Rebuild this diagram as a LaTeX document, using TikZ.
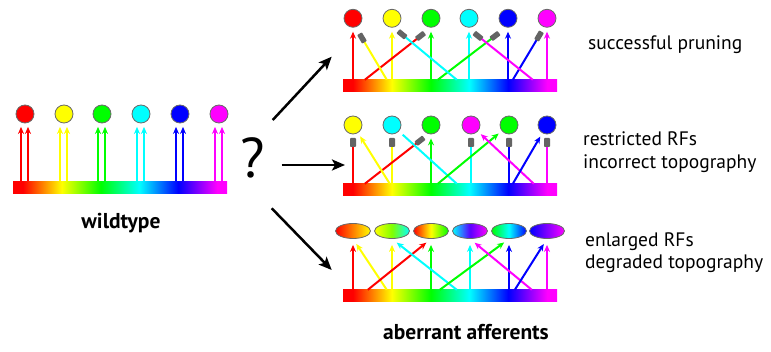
\documentclass[tikz,border=0pt]{standalone}
\usepackage{fontspec}
\setmainfont{PT Sans}
\usetikzlibrary{arrows.meta,shapes.geometric,calc}
\definecolor{cR}{RGB}{255,0,0}
\definecolor{cY}{RGB}{255,255,0}
\definecolor{cG}{RGB}{0,255,0}
\definecolor{cC}{RGB}{0,255,255}
\definecolor{cB}{RGB}{0,0,255}
\definecolor{cM}{RGB}{255,0,255}
\definecolor{cO}{RGB}{255,128,0}
\definecolor{cL}{RGB}{128,255,0}
\definecolor{cV}{RGB}{128,0,255}
\definecolor{blkgray}{RGB}{100,100,100}
\definecolor{rimgray}{RGB}{105,105,105}
\pgfdeclarehorizontalshading{spectrum}{100bp}{color(0bp)=(cR); color(27.3bp)=(cR); color(36.4bp)=(cY); color(45.5bp)=(cG); color(54.5bp)=(cC); color(63.6bp)=(cB); color(72.7bp)=(cM); color(100bp)=(cM)}
\tikzset{
  cell/.style={circle, draw=rimgray, line width=0.8pt, minimum size=18pt, inner sep=0pt},
  rf/.style={ellipse, draw=rimgray, line width=0.8pt, minimum width=35pt, minimum height=15pt, inner sep=0pt},
  specbar/.style={shading=spectrum, minimum width=214pt, minimum height=12pt, inner sep=0pt},
  ln/.style={line width=2pt},
  arr/.style={line width=2pt, -{Stealth[length=7pt,width=6pt]}, shorten >=4pt},
  blk/.style={fill=blkgray, rounded corners=0.8pt, minimum width=10pt, minimum height=5.5pt, inner sep=0pt, sloped, allow upside down},
  vblk/.style={fill=blkgray, rounded corners=0.8pt, minimum width=6pt, minimum height=9pt, inner sep=0pt},
  big/.style={line width=2.5pt, -{Stealth[length=13pt,width=11pt,inset=3pt]}},
  lbl/.style={inner sep=0pt, font=\fontsize{19.5}{22}\selectfont},
  ttl/.style={inner sep=0pt, font=\fontsize{21.5}{24}\selectfont\bfseries},
}
\begin{document}
\begin{tikzpicture}[x=1pt, y=-1pt]
\fill[white] (0,0) rectangle (771,352);
\useasboundingbox (0,0) rectangle (771,352);

% ---------- wildtype ----------
\node[specbar] (wbar) at (120,187.5) {};
\node[cell, fill=cR] (w1) at (25,114) {};
\node[cell, fill=cY] (w2) at (64,114) {};
\node[cell, fill=cG] (w3) at (102,114) {};
\node[cell, fill=cC] (w4) at (141,114) {};
\node[cell, fill=cB] (w5) at (180,114) {};
\node[cell, fill=cM] (w6) at (219,114) {};
\foreach \nn/\col in {w1/cR, w2/cY, w3/cG, w4/cC, w5/cB, w6/cM}{
  \draw[arr, shorten >=3.5pt, \col] ($(\nn |- wbar.north)+(-4,0)$) -- ($(\nn.south)+(-4,0)$);
  \draw[arr, shorten >=3.5pt, \col] ($(\nn |- wbar.north)+(3,0)$) -- ($(\nn.south)+(3,0)$);
}
\node[ttl, anchor=base] (wt) at (121,229) {wildtype};

% ---------- question and big arrows ----------
\node[anchor=base, inner sep=0pt, font=\fontsize{56}{56}\selectfont] (q) at (252.5,178) {?};
\coordinate (g1s) at (272.7,120); \coordinate (g1e) at (331.7,56.7);
\coordinate (g2s) at (281.7,165); \coordinate (g2e) at (345,165);
\coordinate (g3s) at (271.7,208.3); \coordinate (g3e) at (331.7,270);
\draw[big] (g1s) -- (g1e);
\draw[big] (g2s) -- (g2e);
\draw[big] (g3s) -- (g3e);

% ---------- top: successful pruning ----------
\node[specbar] (tbar) at (450,86) {};
\node[cell, fill=cR] (t1) at (353,18.3) {};
\node[cell, fill=cY] (t2) at (392,18.3) {};
\node[cell, fill=cG] (t3) at (431,18.3) {};
\node[cell, fill=cC] (t4) at (469,18.3) {};
\node[cell, fill=cB] (t5) at (508,18.3) {};
\node[cell, fill=cM] (t6) at (547,18.3) {};
\foreach \nn/\col in {t1/cR, t2/cY, t3/cG, t4/cC, t5/cB, t6/cM}{
  \draw[arr, \col] (\nn |- tbar.north) -- (\nn);
}
\coordinate (ta1) at ($(tbar.north west)+(22,0)$);
\coordinate (ta2) at ($(tbar.north west)+(44,0)$);
\coordinate (ta3) at ($(tbar.north west)+(95,0)$);
\coordinate (ta4) at ($(tbar.north west)+(114,0)$);
\coordinate (ta5) at ($(tbar.north west)+(170,0)$);
\coordinate (ta6) at ($(tbar.north west)+(190,0)$);
\coordinate (tz1) at ($(t3)+(-10.5,17.7)$);
\coordinate (tz2) at ($(t1)+(9,19.7)$);
\coordinate (tz3) at ($(t5)+(-13,17.7)$);
\coordinate (tz4) at ($(t2)+(10,16)$);
\coordinate (tz5) at ($(t6)+(-8,17.7)$);
\coordinate (tz6) at ($(t4)+(9,17.7)$);
\draw[ln, cR] (ta1) -- (tz1);
\draw[ln, cY] (ta2) -- (tz2);
\draw[ln, cG] (ta3) -- (tz3);
\draw[ln, cC] (ta4) -- (tz4);
\draw[ln, cB] (ta5) -- (tz5);
\draw[ln, cM] (ta6) -- (tz6);
\path (ta1) -- (tz1) node[blk, pos=1] (tk1) {};
\path (ta2) -- (tz2) node[blk, pos=1] (tk2) {};
\path (ta3) -- (tz3) node[blk, pos=1] (tk3) {};
\path (ta4) -- (tz4) node[blk, pos=1] (tk4) {};
\path (ta5) -- (tz5) node[blk, pos=1] (tk5) {};
\path (ta6) -- (tz6) node[blk, pos=1] (tk6) {};
\node[lbl, anchor=base west] (l1) at (588,50) {successful pruning};

% ---------- middle: restricted RFs ----------
\node[specbar] (mbar) at (450,190) {};
\node[cell, fill=cY] (m1) at (353,125) {};
\node[cell, fill=cC] (m2) at (392,125) {};
\node[cell, fill=cG] (m3) at (431,125) {};
\node[cell, fill=cM] (m4) at (471,125) {};
\node[cell, fill=cG] (m5) at (509,125) {};
\node[cell, fill=cB] (m6) at (547,125) {};
\coordinate (mz1) at ($(m1)+(0,17.5)$);
\coordinate (mz2) at ($(m2)+(0,17.5)$);
\coordinate (mz4) at ($(m4)+(0,17.5)$);
\coordinate (mz5) at ($(m5)+(0,17.5)$);
\coordinate (mz6) at ($(m6)+(0,17.5)$);
\draw[ln, cR] (mz1 |- mbar.north) -- (mz1);
\draw[ln, cY] (mz2 |- mbar.north) -- (mz2);
\draw[ln, cC] (mz4 |- mbar.north) -- (mz4);
\draw[ln, cB] (mz5 |- mbar.north) -- (mz5);
\draw[ln, cM] (mz6 |- mbar.north) -- (mz6);
\draw[arr, cG] (m3 |- mbar.north) -- (m3);
\coordinate (ma1) at ($(mbar.north west)+(22,0)$);
\coordinate (ma2) at ($(mbar.north west)+(47,0)$);
\coordinate (ma3) at ($(mbar.north west)+(95,0)$);
\coordinate (ma4) at ($(mbar.north west)+(114,0)$);
\coordinate (ma5) at ($(mbar.north west)+(170,0)$);
\coordinate (ma6) at ($(mbar.north west)+(191,0)$);
\coordinate (mz0) at ($(m3)+(-11,15.7)$);
\draw[ln, cR] (ma1) -- (mz0);
\draw[arr, cY] (ma2) -- (m1);
\draw[ln, cC, shorten >=5pt] (ma4) -- (m2);
\draw[arr, cG] (ma3) -- (m5);
\draw[arr, cM] (ma6) -- (m4);
\draw[arr, cB] (ma5) -- (m6);
\path (ma1) -- (mz0) node[blk, pos=1] (mk0) {};
\node[vblk] (mk1) at (mz1) {};
\node[vblk] (mk2) at (mz2) {};
\node[vblk] (mk4) at (mz4) {};
\node[vblk] (mk5) at (mz5) {};
\node[vblk] (mk6) at (mz6) {};
\node[lbl, anchor=base west] (l2) at (583,146) {restricted RFs};
\node[lbl, anchor=base west] (l3) at (583,169) {incorrect topography};

% ---------- bottom: enlarged RFs ----------
\node[specbar] (bbar) at (450,296) {};
\node[rf, left color=cR, right color=cY, middle color=cO] (b1) at (353,231) {};
\node[rf, left color=cY, right color=cC, middle color=cL] (b2) at (392,231) {};
\node[rf, left color=cR, right color=cG, middle color=cY] (b3) at (431,231) {};
\node[rf, left color=cC, right color=cM, middle color=cV!70!cB] (b4) at (470,231) {};
\node[rf, left color=cG, right color=cB, middle color=cC] (b5) at (509,231) {};
\node[rf, left color=cB, right color=cM, middle color=cV] (b6) at (547,231) {};
\foreach \nn/\col in {b1/cR, b2/cY, b3/cG, b4/cC, b5/cB, b6/cM}{
  \draw[arr, shorten >=6pt, \col] (\nn |- bbar.north) -- (\nn.south);
}
\coordinate (ba1) at ($(bbar.north west)+(25,0)$);
\coordinate (ba2) at ($(bbar.north west)+(44,0)$);
\coordinate (ba3) at ($(bbar.north west)+(97,0)$);
\coordinate (ba4) at ($(bbar.north west)+(114,0)$);
\coordinate (ba5) at ($(bbar.north west)+(172,0)$);
\coordinate (ba6) at ($(bbar.north west)+(189,0)$);
\draw[arr, shorten >=6pt, cY] (ba2) -- (b1.south);
\draw[arr, shorten >=6pt, cR] (ba1) -- (b3.south);
\draw[arr, shorten >=6pt, cC] (ba4) -- (b2.south);
\draw[arr, shorten >=6pt, cG] (ba3) -- (b5.south);
\draw[arr, shorten >=6pt, cM] (ba6) -- (b4.south);
\draw[arr, shorten >=6pt, cB] (ba5) -- (b6.south);
\node[lbl, anchor=base west] (l4) at (585,247) {enlarged RFs};
\node[lbl, anchor=base west] (l5) at (585,269) {degraded topography};
\node[ttl, anchor=base] (ab) at (466,340) {aberrant afferents};
\end{tikzpicture}
\end{document}
